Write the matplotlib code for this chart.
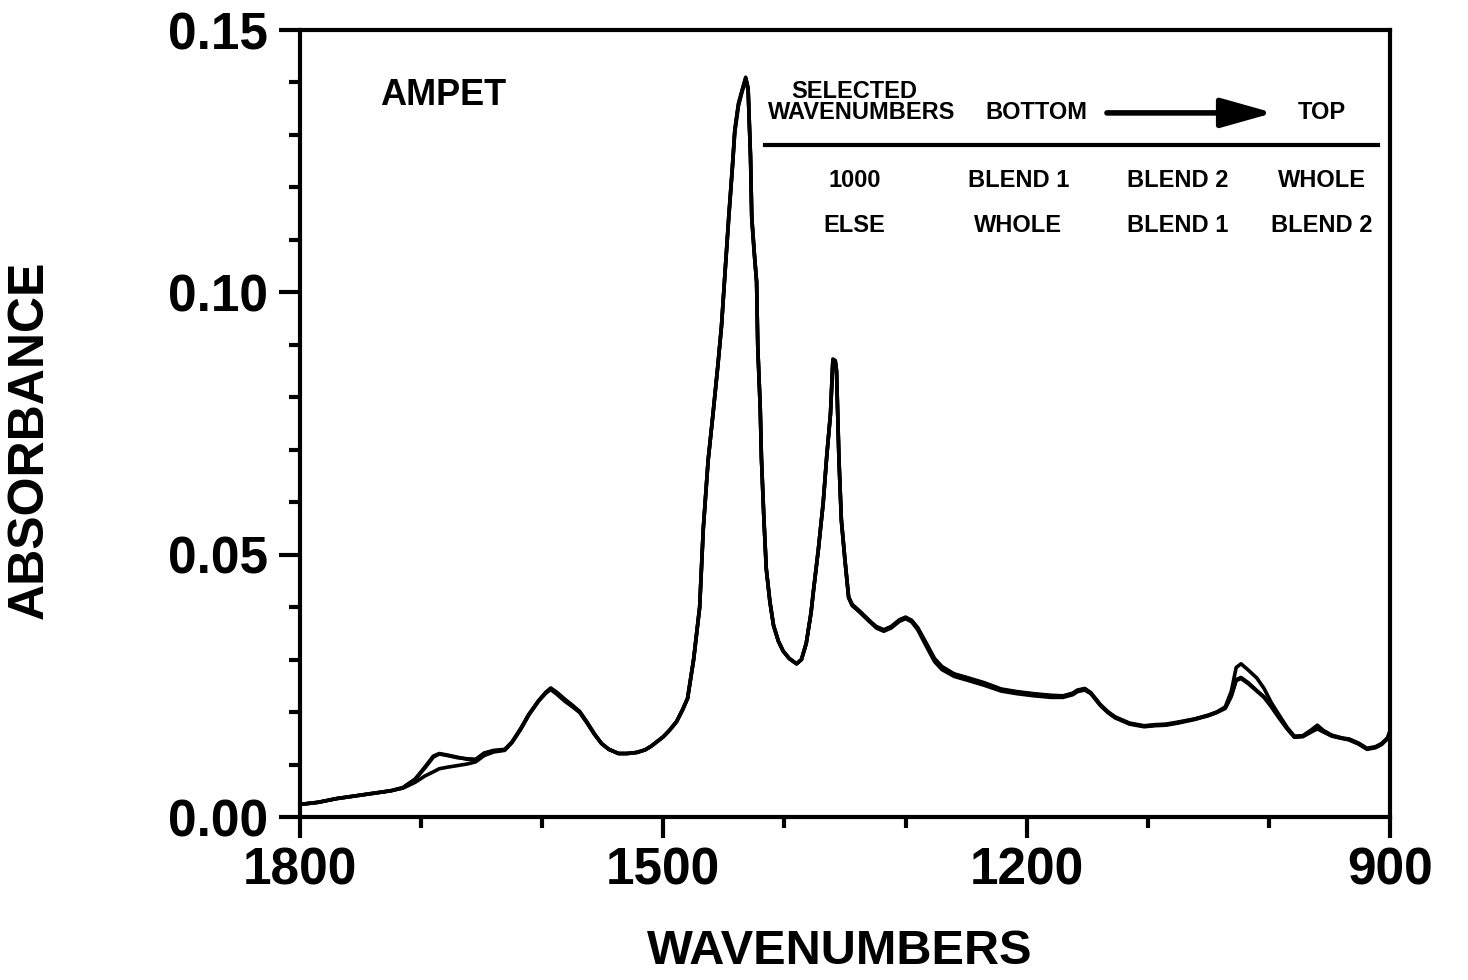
import matplotlib
matplotlib.use("Agg")
import matplotlib.pyplot as plt
from matplotlib.ticker import MultipleLocator, FixedLocator

plt.rcParams['font.family'] = ['Liberation Sans', 'DejaVu Sans']
plt.rcParams['font.weight'] = 'bold'

# wavenumbers (cm-1)
wavenumber = [
    1800, 1785, 1770, 1755, 1740, 1725, 1715, 1705, 1697, 1690,
    1685, 1678, 1670, 1662, 1655, 1648, 1640, 1631, 1625, 1618,
    1611, 1603, 1597, 1593, 1588, 1581, 1575, 1569, 1563, 1557,
    1551, 1545, 1537, 1530, 1522, 1515, 1510, 1500, 1495, 1489,
    1484, 1480, 1475, 1470, 1467, 1463, 1459, 1455, 1452, 1449,
    1446, 1443, 1441, 1438, 1435, 1432, 1430, 1428, 1427, 1425,
    1423, 1422, 1420, 1419, 1417, 1415, 1412, 1409, 1405, 1401,
    1396, 1390, 1386, 1382, 1378, 1376, 1372, 1368, 1365, 1362,
    1360, 1358, 1357, 1355, 1353, 1350, 1347, 1344, 1338, 1330,
    1324, 1318, 1312, 1305, 1300, 1295, 1290, 1283, 1276, 1270,
    1260, 1248, 1235, 1221, 1208, 1194, 1180, 1170, 1162, 1158,
    1152, 1147, 1139, 1133, 1127, 1115, 1103, 1094, 1085, 1075,
    1061, 1050, 1043, 1036, 1031, 1027, 1023, 1017, 1010, 1004,
    998, 992, 985, 979, 972, 965, 960, 955, 948, 940,
    934, 926, 919, 912, 907, 902, 900,
]

# three overlaid spectra
absorb_a = [
    .0024, .0028, .0035, .0040, .0045, .0050, .0056, .0072, .0095, .0116,
    .0121, .0118, .0114, .0110, .0109, .0122, .0127, .0129, .0143, .0168,
    .0196, .0222, .0238, .0246, .0238, .0224, .0213, .0201, .0181, .0159,
    .0140, .0129, .0121, .0121, .0123, .0128, .0135, .0153, .0165, .0182,
    .0205, .0226, .0300, .0400, .0550, .0680, .0768, .0860, .0935, .1040,
    .1145, .1240, .1310, .1360, .1385, .1410, .1390, .1260, .1145, .1080,
    .1020, .0894, .0780, .0684, .0570, .0473, .0410, .0365, .0335, .0316,
    .0302, .0292, .0300, .0331, .0390, .0432, .0510, .0599, .0690, .0768,
    .0873, .0870, .0852, .0684, .0567, .0490, .0420, .0405, .0393, .0375,
    .0362, .0356, .0362, .0375, .0380, .0374, .0360, .0330, .0300, .0285,
    .0272, .0264, .0255, .0243, .0238, .0234, .0231, .0230, .0235, .0241,
    .0244, .0236, .0213, .0200, .0190, .0178, .0173, .0175, .0176, .0180,
    .0187, .0194, .0200, .0210, .0240, .0285, .0292, .0280, .0265, .0245,
    .0218, .0196, .0171, .0154, .0155, .0166, .0175, .0165, .0156, .0151,
    .0148, .0140, .0130, .0133, .0139, .0150, .0163,
]
absorb_b = [
    .0024, .0028, .0035, .0040, .0045, .0050, .0056, .0072, .0093, .0114,
    .0120, .0117, .0113, .0111, .0110, .0121, .0126, .0128, .0142, .0167,
    .0195, .0221, .0236, .0243, .0234, .0220, .0210, .0199, .0179, .0158,
    .0140, .0129, .0121, .0121, .0123, .0128, .0135, .0153, .0165, .0182,
    .0205, .0226, .0300, .0400, .0550, .0680, .0768, .0860, .0935, .1040,
    .1140, .1235, .1305, .1355, .1382, .1405, .1385, .1255, .1140, .1075,
    .1020, .0894, .0780, .0684, .0570, .0473, .0410, .0365, .0335, .0316,
    .0302, .0292, .0300, .0331, .0390, .0432, .0510, .0599, .0690, .0768,
    .0870, .0866, .0848, .0680, .0565, .0488, .0418, .0403, .0391, .0373,
    .0360, .0354, .0360, .0373, .0378, .0372, .0357, .0326, .0296, .0281,
    .0268, .0260, .0251, .0240, .0235, .0231, .0228, .0228, .0233, .0239,
    .0242, .0235, .0212, .0199, .0189, .0177, .0172, .0174, .0175, .0179,
    .0186, .0193, .0199, .0207, .0230, .0260, .0264, .0254, .0240, .0228,
    .0210, .0190, .0168, .0152, .0153, .0162, .0168, .0162, .0154, .0150,
    .0147, .0139, .0129, .0132, .0138, .0149, .0162,
]
absorb_c = [
    .0024, .0028, .0035, .0040, .0045, .0050, .0055, .0066, .0078, .0086,
    .0092, .0095, .0098, .0101, .0105, .0117, .0124, .0127, .0142, .0166,
    .0195, .0221, .0237, .0244, .0236, .0222, .0211, .0200, .0180, .0158,
    .0140, .0129, .0121, .0121, .0123, .0128, .0135, .0153, .0165, .0182,
    .0205, .0226, .0300, .0400, .0550, .0680, .0768, .0860, .0935, .1040,
    .1143, .1238, .1308, .1358, .1384, .1408, .1388, .1258, .1143, .1078,
    .1020, .0894, .0780, .0684, .0570, .0473, .0410, .0365, .0335, .0316,
    .0302, .0292, .0300, .0331, .0390, .0432, .0510, .0599, .0690, .0768,
    .0871, .0868, .0850, .0682, .0565, .0488, .0418, .0403, .0391, .0373,
    .0363, .0357, .0363, .0376, .0381, .0375, .0361, .0332, .0302, .0287,
    .0273, .0265, .0256, .0244, .0239, .0235, .0232, .0231, .0236, .0242,
    .0245, .0237, .0214, .0201, .0191, .0179, .0174, .0176, .0177, .0181,
    .0187, .0194, .0200, .0208, .0232, .0262, .0266, .0256, .0241, .0229,
    .0211, .0191, .0169, .0153, .0154, .0164, .0171, .0163, .0155, .0150,
    .0149, .0141, .0131, .0134, .0140, .0151, .0164,
]

# legend table text
column_x = [1342, 1207, 1075, 956]
row_top = ['1000', 'BLEND 1', 'BLEND 2', 'WHOLE']
row_bottom = ['ELSE', 'WHOLE', 'BLEND 1', 'BLEND 2']

fig = plt.figure(figsize=(14.68, 9.80), dpi=100)
ax = fig.add_axes([300 / 1468, 1 - 817 / 980, 1090 / 1468, 787 / 980])

for spec in [absorb_a, absorb_b, absorb_c]:
    ax.plot(wavenumber, spec, color='black', linewidth=2.6)

ax.set_xlim(1800, 900)
ax.set_ylim(0, 0.15)

ax.xaxis.set_major_locator(FixedLocator([1800, 1500, 1200, 900]))
ax.xaxis.set_minor_locator(MultipleLocator(100))
ax.yaxis.set_major_locator(FixedLocator([0.0, 0.05, 0.10, 0.15]))
ax.yaxis.set_minor_locator(MultipleLocator(0.01))
ax.set_yticklabels(['0.00', '0.05', '0.10', '0.15'])

for s in ax.spines.values():
    s.set_linewidth(3)
ax.tick_params(which='both', direction='out', width=3, top=False, right=False)
ax.tick_params(which='major', length=15)
ax.tick_params(which='minor', length=8)
ax.tick_params(axis='y', which='major', labelsize=37, pad=8)
ax.tick_params(axis='x', which='major', labelsize=37, pad=6)

ax.set_xlabel('WAVENUMBERS', fontsize=35, fontweight='bold')
ax.xaxis.set_label_coords(0.495, -0.142)
ax.set_ylabel('ABSORBANCE', fontsize=36, fontweight='bold')
ax.yaxis.set_label_coords(-0.227, 0.479)

ax.text(1734, 0.1376, 'AMPET', fontsize=26, fontweight='bold', ha='left', va='center')

# table header
hdr = dict(fontsize=17, fontweight='bold', ha='center', va='center')
ax.text(1342, 0.1382, 'SELECTED', **hdr)
ax.text(1336, 0.1342, 'WAVENUMBERS', **hdr)
ax.text(1192, 0.1342, 'BOTTOM', **hdr)
ax.text(956, 0.1342, 'TOP', **hdr)
ax.annotate('', xy=(994, 0.1342), xytext=(1136, 0.1342),
            arrowprops=dict(arrowstyle='-|>,head_length=1.6,head_width=0.45',
                            mutation_scale=20, lw=4, color='black'))
ax.plot([1416, 910], [0.1281, 0.1281], color='black', linewidth=3)

for cx, t1, t2 in zip(column_x, row_top, row_bottom):
    ax.text(cx, 0.1214, t1, **hdr)
    ax.text(cx, 0.1128, t2, **hdr)

fig.savefig('out.png', dpi=100)
